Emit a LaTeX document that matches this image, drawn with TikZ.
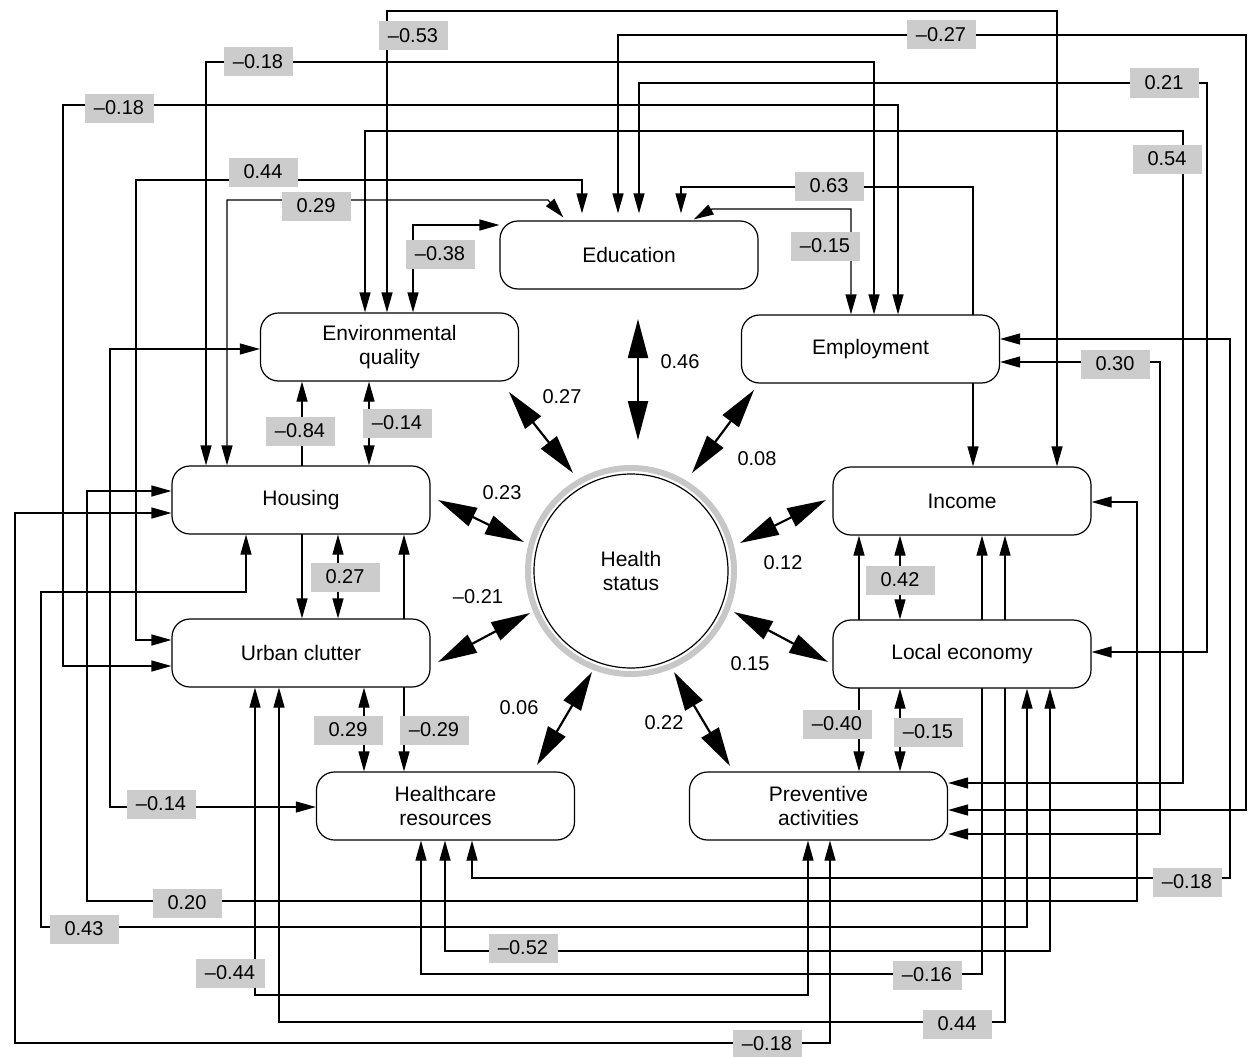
\documentclass[tikz,border=0pt]{standalone}
\usepackage{fontspec}
\setmainfont{Liberation Sans}
\usetikzlibrary{arrows.meta}
\pgfdeclarelayer{bg}
\pgfsetlayers{bg,main}
\begin{document}
\begin{tikzpicture}[x=1pt,y=-1pt,
  font=\fontsize{20}{23.5}\selectfont,
  box/.style={draw, line width=1.2pt, rounded corners=18pt, fill=white, minimum width=258pt, minimum height=68pt, align=center, inner sep=0pt, font=\fontsize{21}{24}\selectfont},
  conn/.style={line width=1.2pt, {Triangle[length=20pt,width=11pt]}-{Triangle[length=20pt,width=11pt]}},
  big/.style={line width=2.2pt, {Triangle[length=39pt,width=20pt]}-{Triangle[length=39pt,width=20pt]}},
  lab/.style={fill=black!20, minimum width=69pt, minimum height=29pt, inner sep=0pt},
  num/.style={inner sep=0pt}]
\useasboundingbox (0,0) rectangle (1248,1057);

% boxes
\node[box] (edu) at (629,255) {Education};
\node[box] (env) at (389.5,347) {Environmental\\quality};
\node[box] (emp) at (870.5,349) {Employment};
\node[box] (hou) at (301,500) {Housing};
\node[box] (inc) at (962,501) {Income};
\node[box] (urb) at (301,653) {Urban clutter};
\node[box] (loc) at (962,654) {Local economy};
\node[box] (hea) at (445.5,806) {Healthcare\\resources};
\node[box] (pre) at (818.5,806) {Preventive\\activities};

% health status
\node[circle, draw, line width=1.2pt, minimum size=194pt, align=center, inner sep=0pt, font=\fontsize{21}{24}\selectfont] (hs) at (631,571) {Health\\status};
\draw[black!22, line width=6pt] (hs.center) circle[radius=103pt];

\begin{pgfonlayer}{bg}
% thin connectors
\draw[conn] (env.north -| 387,0) |- (1057,11) -- (inc.north -| 1057,0);
\draw[conn, shorten <=7pt] (edu.north -| 618,0) |- (1246,35) |- (pre.east |- 0,810);
\draw[conn] (hou.north -| 206,0) |- (874,62) -- (emp.north -| 874,0);
\draw[conn, shorten <=7pt] (edu.north -| 639,0) |- (1207,83) |- (loc.east |- 0,652);
\draw[conn] (urb.west |- 0,666) -| (63,105) -| (emp.north -| 898,0);
\draw[conn] (env.north -| 365,0) |- (1183,131) |- (pre.east |- 0,783);
\draw[conn, shorten >=7pt] (urb.west |- 0,640) -| (136,180) -| (edu.north -| 582,0);
\draw[conn, shorten >=4pt] (hou.north -| 227,0) |- (548,200) -- (edu.north -| 566,0);
\draw[conn] (env.north -| 413,0) |- (edu.west |- 0,225);
\draw[conn, shorten >=7pt] (inc.north -| 973,0) |- (681,187) -- (edu.north -| 681,0);
\draw[conn, shorten >=2pt] (emp.north -| 851,0) |- (712,209) -- (edu.north -| 692,0);
\draw[conn] (emp.east |- 0,339) -| (1230,878) -| (hea.south -| 472,0);
\draw[conn] (emp.east |- 0,362) -| (1160,834) -- (pre.east |- 0,834);
\draw[conn] (inc.east |- 0,502) -| (1137,901) -| (87,491) -- (hou.west |- 0,491);
\draw[conn] (env.south -| 302,0) -- (urb.north -| 302,0);
\draw[conn] (env.south -| 369,0) -- (hou.north -| 369,0);
\draw[conn] (env.west |- 0,349) -| (110,807) -- (hea.west |- 0,807);
\draw[conn] (hou.south -| 338,0) -- (urb.north -| 338,0);
\draw[conn] (hou.south -| 404,0) -- (hea.north -| 404,0);
\draw[conn] (urb.south -| 364,0) -- (hea.north -| 364,0);
\draw[conn] (hou.south -| 246,0) |- (41,592) |- (1027,927) -- (loc.south -| 1027,0);
\draw[conn] (hea.south -| 445,0) |- (1050,951) -- (loc.south -| 1050,0);
\draw[conn] (hea.south -| 421,0) |- (982,974) -- (inc.south -| 982,0);
\draw[conn] (urb.south -| 279,0) |- (1005,1022) -- (inc.south -| 1005,0);
\draw[conn] (urb.south -| 255,0) |- (808,995) -- (pre.south -| 808,0);
\draw[conn] (hou.west |- 0,513) -| (15,1043) -| (pre.south -| 830,0);
\draw[conn] (inc.south -| 900,0) -- (loc.north -| 900,0);
\draw[conn] (inc.south -| 859,0) -- (pre.north -| 859,0);
\draw[conn] (loc.south -| 900,0) -- (pre.north -| 900,0);
\end{pgfonlayer}

% thick arrows to health status
\coordinate (a46a) at (638,319); \coordinate (a46b) at (638,440);
\coordinate (a27a) at (509,392); \coordinate (a27b) at (573,473);
\coordinate (a08a) at (754,390); \coordinate (a08b) at (692,473);
\coordinate (a23a) at (438,500); \coordinate (a23b) at (524,542);
\coordinate (a12a) at (826,500); \coordinate (a12b) at (740,543);
\coordinate (a21a) at (438,662); \coordinate (a21b) at (530,613);
\coordinate (a15a) at (828,662); \coordinate (a15b) at (734,612);
\coordinate (a06a) at (537,765); \coordinate (a06b) at (592,672);
\coordinate (a22a) at (730,766); \coordinate (a22b) at (674,672);
\draw[big] (a46a) -- (a46b);
\draw[big] (a27a) -- (a27b);
\draw[big] (a08a) -- (a08b);
\draw[big] (a23a) -- (a23b);
\draw[big] (a12a) -- (a12b);
\draw[big] (a21a) -- (a21b);
\draw[big] (a15a) -- (a15b);
\draw[big] (a06a) -- (a06b);
\draw[big] (a22a) -- (a22b);

\node[num] (n46) at (680,362) {0.46};
\node[num] (n27) at (562,397) {0.27};
\node[num] (n08) at (757,459) {0.08};
\node[num] (n23) at (502,493) {0.23};
\node[num] (n21) at (478,597) {–0.21};
\node[num] (n12) at (783,563) {0.12};
\node[num] (n15) at (750,664) {0.15};
\node[num] (n06) at (519,708) {0.06};
\node[num] (n22) at (664,723) {0.22};

% grey labels
\node[lab] (l1) at (413,36) {–0.53};
\node[lab] (l2) at (941,35) {–0.27};
\node[lab] (l3) at (258,62) {–0.18};
\node[lab] (l4) at (1164,83) {0.21};
\node[lab] (l5) at (119,108) {–0.18};
\node[lab] (l6) at (1167,159) {0.54};
\node[lab] (l7) at (263,172) {0.44};
\node[lab] (l8) at (316,206) {0.29};
\node[lab] (l9) at (440,254) {–0.38};
\node[lab] (l10) at (829,186) {0.63};
\node[lab] (l11) at (825,246) {–0.15};
\node[lab] (l12) at (300,431) {–0.84};
\node[lab] (l13) at (397,423) {–0.14};
\node[lab] (l14) at (345,577) {0.27};
\node[lab] (l15) at (900,580) {0.42};
\node[lab] (l16) at (1115,364) {0.30};
\node[lab] (l17) at (837,724) {–0.40};
\node[lab] (l18) at (928,732) {–0.15};
\node[lab] (l19) at (348,730) {0.29};
\node[lab] (l20) at (434,730) {–0.29};
\node[lab] (l21) at (161,804) {–0.14};
\node[lab] (l22) at (1187,882) {–0.18};
\node[lab] (l23) at (187,903) {0.20};
\node[lab] (l24) at (84,929) {0.43};
\node[lab] (l25) at (523,948) {–0.52};
\node[lab] (l26) at (230,973) {–0.44};
\node[lab] (l27) at (927,975) {–0.16};
\node[lab] (l28) at (957,1024) {0.44};
\node[lab] (l29) at (767,1044) {–0.18};
\end{tikzpicture}
\end{document}
